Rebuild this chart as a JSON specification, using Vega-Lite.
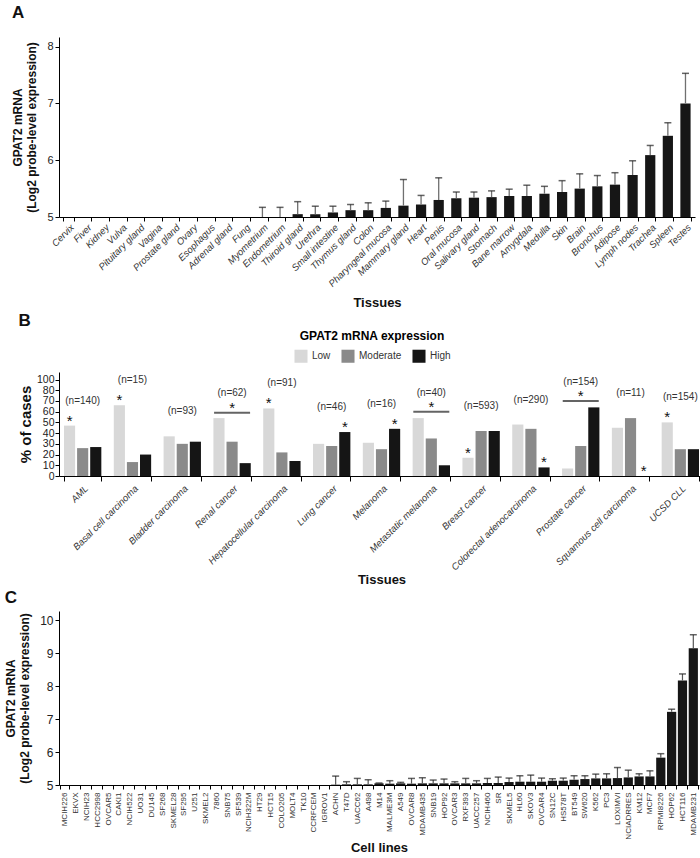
{
  "$schema": "https://vega.github.io/schema/vega-lite/v6.json",
  "padding": {"left": 4, "top": 4, "right": 2, "bottom": 2},
  "config": {
    "font": "Liberation Sans",
    "view": {"stroke": null},
    "axis": {"domainColor": "#000", "tickColor": "#000", "labelColor": "#222", "titleColor": "#111", "grid": false, "labelFont": "Liberation Sans", "titleFont": "Liberation Sans", "labelOverlap": false},
    "axisY": {"labelOverlap": false},
    "title": {"font": "Liberation Sans", "fontSize": 17, "fontWeight": "bold", "anchor": "start", "frame": "bounds", "color": "#111"}
  },
  "datasets": {
    "tissues": [
      {"tissue": "Cervix", "mean": 5.0},
      {"tissue": "Fiver", "mean": 5.0},
      {"tissue": "Kidney", "mean": 5.0},
      {"tissue": "Vulva", "mean": 5.0},
      {"tissue": "Pituitary gland", "mean": 5.0},
      {"tissue": "Vagina", "mean": 5.0},
      {"tissue": "Prostate gland", "mean": 5.0},
      {"tissue": "Ovary", "mean": 5.0},
      {"tissue": "Esophagus", "mean": 5.0},
      {"tissue": "Adrenal gland", "mean": 5.0},
      {"tissue": "Fung", "mean": 5.0},
      {"tissue": "Myometrium", "mean": 5.0, "upper": 5.17},
      {"tissue": "Endometrium", "mean": 5.0, "upper": 5.17},
      {"tissue": "Thiroid gland", "mean": 5.05, "upper": 5.27},
      {"tissue": "Urethra", "mean": 5.05, "upper": 5.19},
      {"tissue": "Small intestine", "mean": 5.08, "upper": 5.19},
      {"tissue": "Thymus gland", "mean": 5.12, "upper": 5.22},
      {"tissue": "Colon", "mean": 5.12, "upper": 5.25},
      {"tissue": "Pharyngeal mucosa", "mean": 5.16, "upper": 5.28},
      {"tissue": "Mammary gland", "mean": 5.2, "upper": 5.66},
      {"tissue": "Heart", "mean": 5.22, "upper": 5.38},
      {"tissue": "Penis", "mean": 5.3, "upper": 5.69},
      {"tissue": "Oral mucosa", "mean": 5.33, "upper": 5.44},
      {"tissue": "Salivary gland", "mean": 5.34, "upper": 5.44},
      {"tissue": "Stomach", "mean": 5.35, "upper": 5.46},
      {"tissue": "Bane marrow", "mean": 5.37, "upper": 5.49},
      {"tissue": "Amygdala", "mean": 5.37, "upper": 5.56},
      {"tissue": "Medulla", "mean": 5.41, "upper": 5.54},
      {"tissue": "Skin", "mean": 5.44, "upper": 5.64},
      {"tissue": "Brain", "mean": 5.5, "upper": 5.76},
      {"tissue": "Bronchus", "mean": 5.54, "upper": 5.73},
      {"tissue": "Adipose", "mean": 5.57, "upper": 5.78},
      {"tissue": "Lymph nodes", "mean": 5.74, "upper": 5.99},
      {"tissue": "Trachea", "mean": 6.09, "upper": 6.26},
      {"tissue": "Spleen", "mean": 6.43, "upper": 6.66},
      {"tissue": "Testes", "mean": 7.0, "upper": 7.53}
    ],
    "cancers": [
      {"cancer": "AML", "nlabel": "(n=140)", "level": "Low", "pct": 47, "sig": true},
      {"cancer": "AML", "nlabel": "(n=140)", "level": "Moderate", "pct": 26, "sig": false},
      {"cancer": "AML", "nlabel": "(n=140)", "level": "High", "pct": 27, "sig": false},
      {"cancer": "Basal cell carcinoma", "nlabel": "(n=15)", "level": "Low", "pct": 66, "sig": true},
      {"cancer": "Basal cell carcinoma", "nlabel": "(n=15)", "level": "Moderate", "pct": 13, "sig": false},
      {"cancer": "Basal cell carcinoma", "nlabel": "(n=15)", "level": "High", "pct": 20, "sig": false},
      {"cancer": "Bladder carcinoma", "nlabel": "(n=93)", "level": "Low", "pct": 37, "sig": false},
      {"cancer": "Bladder carcinoma", "nlabel": "(n=93)", "level": "Moderate", "pct": 30, "sig": false},
      {"cancer": "Bladder carcinoma", "nlabel": "(n=93)", "level": "High", "pct": 32, "sig": false},
      {"cancer": "Renal cancer", "nlabel": "(n=62)", "level": "Low", "pct": 54, "sig": false},
      {"cancer": "Renal cancer", "nlabel": "(n=62)", "level": "Moderate", "pct": 32, "sig": false},
      {"cancer": "Renal cancer", "nlabel": "(n=62)", "level": "High", "pct": 12, "sig": false},
      {"cancer": "Hepatocellular carcinoma", "nlabel": "(n=91)", "level": "Low", "pct": 63, "sig": true},
      {"cancer": "Hepatocellular carcinoma", "nlabel": "(n=91)", "level": "Moderate", "pct": 22, "sig": false},
      {"cancer": "Hepatocellular carcinoma", "nlabel": "(n=91)", "level": "High", "pct": 14, "sig": false},
      {"cancer": "Lung cancer", "nlabel": "(n=46)", "level": "Low", "pct": 30, "sig": false},
      {"cancer": "Lung cancer", "nlabel": "(n=46)", "level": "Moderate", "pct": 28, "sig": false},
      {"cancer": "Lung cancer", "nlabel": "(n=46)", "level": "High", "pct": 41, "sig": true},
      {"cancer": "Melanoma", "nlabel": "(n=16)", "level": "Low", "pct": 31, "sig": false},
      {"cancer": "Melanoma", "nlabel": "(n=16)", "level": "Moderate", "pct": 25, "sig": false},
      {"cancer": "Melanoma", "nlabel": "(n=16)", "level": "High", "pct": 44, "sig": true},
      {"cancer": "Metastatic melanoma", "nlabel": "(n=40)", "level": "Low", "pct": 54, "sig": false},
      {"cancer": "Metastatic melanoma", "nlabel": "(n=40)", "level": "Moderate", "pct": 35, "sig": false},
      {"cancer": "Metastatic melanoma", "nlabel": "(n=40)", "level": "High", "pct": 10, "sig": false},
      {"cancer": "Breast cancer", "nlabel": "(n=593)", "level": "Low", "pct": 17, "sig": true},
      {"cancer": "Breast cancer", "nlabel": "(n=593)", "level": "Moderate", "pct": 42, "sig": false},
      {"cancer": "Breast cancer", "nlabel": "(n=593)", "level": "High", "pct": 42, "sig": false},
      {"cancer": "Colorectal adenocarcinoma", "nlabel": "(n=290)", "level": "Low", "pct": 48, "sig": false},
      {"cancer": "Colorectal adenocarcinoma", "nlabel": "(n=290)", "level": "Moderate", "pct": 44, "sig": false},
      {"cancer": "Colorectal adenocarcinoma", "nlabel": "(n=290)", "level": "High", "pct": 8, "sig": true},
      {"cancer": "Prostate cancer", "nlabel": "(n=154)", "level": "Low", "pct": 7, "sig": false},
      {"cancer": "Prostate cancer", "nlabel": "(n=154)", "level": "Moderate", "pct": 28, "sig": false},
      {"cancer": "Prostate cancer", "nlabel": "(n=154)", "level": "High", "pct": 64, "sig": false},
      {"cancer": "Squamous cell carcinoma", "nlabel": "(n=11)", "level": "Low", "pct": 45, "sig": false},
      {"cancer": "Squamous cell carcinoma", "nlabel": "(n=11)", "level": "Moderate", "pct": 54, "sig": false},
      {"cancer": "Squamous cell carcinoma", "nlabel": "(n=11)", "level": "High", "pct": 0, "sig": true},
      {"cancer": "UCSD CLL", "nlabel": "(n=154)", "level": "Low", "pct": 50, "sig": true},
      {"cancer": "UCSD CLL", "nlabel": "(n=154)", "level": "Moderate", "pct": 25, "sig": false},
      {"cancer": "UCSD CLL", "nlabel": "(n=154)", "level": "High", "pct": 25, "sig": false}
    ],
    "brackets": [
      {"cancer": "Renal cancer", "bracket": 59},
      {"cancer": "Metastatic melanoma", "bracket": 60},
      {"cancer": "Prostate cancer", "bracket": 70}
    ],
    "notes": [
      {"cancer": "AML", "note": "* p<0.01", "side": "left"},
      {"cancer": "UCSD CLL", "note": "N=1693", "side": "right"}
    ],
    "cells": [
      {"cell": "MCIH226", "mean": 5.0}, {"cell": "EKVX", "mean": 5.0}, {"cell": "NCIH23", "mean": 5.0},
      {"cell": "HCC2998", "mean": 5.0}, {"cell": "OVCAR5", "mean": 5.0}, {"cell": "CAKI1", "mean": 5.0},
      {"cell": "NCIH522", "mean": 5.0}, {"cell": "UO31", "mean": 5.0}, {"cell": "DU145", "mean": 5.0},
      {"cell": "SF268", "mean": 5.0}, {"cell": "SKMEL28", "mean": 5.0}, {"cell": "SF295", "mean": 5.0},
      {"cell": "U251", "mean": 5.0}, {"cell": "SKMEL2", "mean": 5.0}, {"cell": "7860", "mean": 5.0},
      {"cell": "SNB75", "mean": 5.0}, {"cell": "SF539", "mean": 5.0}, {"cell": "NCIH322M", "mean": 5.0},
      {"cell": "HT29", "mean": 5.0}, {"cell": "HCT15", "mean": 5.0}, {"cell": "COLO205", "mean": 5.0},
      {"cell": "MOLT4", "mean": 5.0}, {"cell": "TK10", "mean": 5.0}, {"cell": "CCRFCEM", "mean": 5.0},
      {"cell": "IGROV1", "mean": 5.0},
      {"cell": "ACHN", "mean": 5.01, "upper": 5.27},
      {"cell": "T47D", "mean": 5.02, "upper": 5.1},
      {"cell": "UACC62", "mean": 5.02, "upper": 5.2},
      {"cell": "A498", "mean": 5.02, "upper": 5.16},
      {"cell": "M14", "mean": 5.05, "upper": 5.06},
      {"cell": "MALME3M", "mean": 5.04, "upper": 5.13},
      {"cell": "A549", "mean": 5.05, "upper": 5.08},
      {"cell": "OVCAR8", "mean": 5.04, "upper": 5.2},
      {"cell": "MDAMB435", "mean": 5.05, "upper": 5.22},
      {"cell": "SNB19", "mean": 5.05, "upper": 5.15},
      {"cell": "HOP92", "mean": 5.05, "upper": 5.18},
      {"cell": "OVCAR3", "mean": 5.05, "upper": 5.1},
      {"cell": "RXF393", "mean": 5.05, "upper": 5.2},
      {"cell": "UACC257", "mean": 5.05, "upper": 5.13},
      {"cell": "NCIH460", "mean": 5.06, "upper": 5.2},
      {"cell": "SR", "mean": 5.06, "upper": 5.24},
      {"cell": "SKMEL5", "mean": 5.09, "upper": 5.21},
      {"cell": "HL60", "mean": 5.1, "upper": 5.28},
      {"cell": "SKOV3", "mean": 5.1, "upper": 5.3},
      {"cell": "OVCAR4", "mean": 5.1, "upper": 5.21},
      {"cell": "SN12C", "mean": 5.13, "upper": 5.19},
      {"cell": "HS578T", "mean": 5.13, "upper": 5.21},
      {"cell": "BT549", "mean": 5.16, "upper": 5.28},
      {"cell": "SW620", "mean": 5.18, "upper": 5.28},
      {"cell": "K562", "mean": 5.2, "upper": 5.33},
      {"cell": "PC3", "mean": 5.2, "upper": 5.34},
      {"cell": "LOXIMVI", "mean": 5.21, "upper": 5.53},
      {"cell": "NCIADRRES", "mean": 5.23, "upper": 5.45},
      {"cell": "KM12", "mean": 5.26, "upper": 5.34},
      {"cell": "MCF7", "mean": 5.26, "upper": 5.43},
      {"cell": "RPMI8226", "mean": 5.83, "upper": 5.95},
      {"cell": "HOP62", "mean": 7.22, "upper": 7.3},
      {"cell": "HCT116", "mean": 8.17, "upper": 8.37},
      {"cell": "MDAMB231", "mean": 9.15, "upper": 9.56}
    ]
  },
  "resolve": {"scale": {"color": "independent"}, "legend": {"color": "independent"}},
  "concat": [
    {
      "title": {"text": "A", "offset": 15},
      "width": 636,
      "height": 180,
      "data": {"name": "tissues"},
      "encoding": {
        "x": {
          "field": "tissue", "type": "nominal",
          "sort": ["Cervix", "Fiver", "Kidney", "Vulva", "Pituitary gland", "Vagina", "Prostate gland", "Ovary", "Esophagus", "Adrenal gland", "Fung", "Myometrium", "Endometrium", "Thiroid gland", "Urethra", "Small intestine", "Thymus gland", "Colon", "Pharyngeal mucosa", "Mammary gland", "Heart", "Penis", "Oral mucosa", "Salivary gland", "Stomach", "Bane marrow", "Amygdala", "Medulla", "Skin", "Brain", "Bronchus", "Adipose", "Lymph nodes", "Trachea", "Spleen", "Testes"],
          "scale": {"paddingInner": 0.42, "paddingOuter": 0.25},
          "axis": {"title": "Tissues", "titleFontSize": 13, "titleFontWeight": "bold", "titlePadding": 8, "labelAngle": -45, "labelFontSize": 9.5, "labelFontStyle": "italic", "labelColor": "#333", "tickBand": "extent", "tickSize": 4, "labelPadding": 1, "labelOverlap": false}
        },
        "y": {"field": "mean", "type": "quantitative", "scale": {"domain": [5, 8.17], "nice": false, "zero": false},
          "axis": {"values": [5, 6, 7, 8], "format": ".0f", "labelOverlap": false, "title": ["GPAT2 mRNA", "(Log2 probe-level expression)"], "titleFontSize": 12, "titleFontWeight": "bold", "labelFontSize": 11, "tickSize": 4, "titlePadding": 8}}
      },
      "layer": [
        {
          "mark": {"type": "bar", "color": "#161616"},
          "encoding": {"y2": {"datum": 5}}
        },
        {
          "transform": [{"filter": "isValid(datum.upper)"}],
          "mark": {"type": "rule", "color": "#707070", "strokeWidth": 1.3},
          "encoding": {"y2": {"field": "upper"}}
        },
        {
          "transform": [{"filter": "isValid(datum.upper)"}],
          "mark": {"type": "tick", "orient": "horizontal", "color": "#222", "size": 7, "thickness": 1.5},
          "encoding": {"y": {"field": "upper", "type": "quantitative"}}
        }
      ]
    },
    {
      "title": {"text": "B", "offset": 1},
      "width": 645,
      "height": 104,
      "data": {"name": "cancers"},
      "encoding": {
        "x": {
          "field": "cancer", "type": "nominal",
          "sort": ["AML", "Basal cell carcinoma", "Bladder carcinoma", "Renal cancer", "Hepatocellular carcinoma", "Lung cancer", "Melanoma", "Metastatic melanoma", "Breast cancer", "Colorectal adenocarcinoma", "Prostate cancer", "Squamous cell carcinoma", "UCSD CLL"],
          "scale": {"paddingInner": 0.25, "paddingOuter": 0.1},
          "axis": {"title": "Tissues", "titleFontSize": 13, "titleFontWeight": "bold", "titlePadding": 2, "labelAngle": -45, "labelFontSize": 9.5, "labelFontStyle": "italic", "labelColor": "#333", "tickBand": "extent", "tickSize": 5, "labelPadding": 2, "labelLimit": 200, "labelOverlap": false}
        },
        "y": {"field": "pct", "type": "quantitative", "scale": {"domain": [0, 97], "nice": false},
          "axis": {"values": [0, 10, 20, 30, 40, 50, 60, 70, 80, 90], "labelExpr": "datum.value == 90 ? '100' : datum.label", "labelOverlap": false, "title": "% of cases", "titleFontSize": 15, "titleFontWeight": "bold", "labelFontSize": 10.5, "tickSize": 4, "titlePadding": 3, "labelPadding": 1}}
      },
      "layer": [
        {
          "mark": {"type": "bar"},
          "encoding": {
            "xOffset": {"field": "level", "type": "nominal", "sort": ["Low", "Moderate", "High"], "scale": {"paddingInner": 0.15}},
            "color": {
              "field": "level", "type": "nominal",
              "scale": {"domain": ["Low", "Moderate", "High"], "range": ["#d8d8d8", "#8a8a8a", "#151515"]},
              "legend": {"title": "GPAT2 mRNA expression", "orient": "none", "legendX": 235, "legendY": -41, "direction": "horizontal", "titleFontSize": 12, "titleFontWeight": "bold", "titleAnchor": "middle", "titlePadding": 6, "symbolType": "square", "symbolSize": 170, "symbolStrokeWidth": 0, "labelFontSize": 10, "labelColor": "#333", "columnPadding": 10}
            }
          }
        },
        {
          "transform": [{"filter": "datum.sig"}],
          "mark": {"type": "text", "text": "*", "baseline": "top", "dy": -12, "fontSize": 15, "color": "#111"},
          "encoding": {
            "xOffset": {"field": "level", "type": "nominal", "sort": ["Low", "Moderate", "High"]}
          }
        },
        {
          "transform": [{"joinaggregate": [{"op": "max", "field": "pct", "as": "groupmax"}], "groupby": ["cancer"]}, {"filter": "datum.level == 'Low'"}],
          "mark": {"type": "text", "dy": -25, "fontSize": 10, "color": "#333"},
          "encoding": {
            "y": {"field": "groupmax", "type": "quantitative"},
            "text": {"field": "nlabel", "type": "nominal"}
          }
        },
        {
          "data": {"name": "brackets"},
          "mark": {"type": "tick", "orient": "horizontal", "size": 36, "thickness": 2, "color": "#222"},
          "encoding": {"y": {"field": "bracket", "type": "quantitative"}}
        },
        {
          "data": {"name": "brackets"},
          "mark": {"type": "text", "text": "*", "baseline": "top", "dy": -12, "fontSize": 15, "color": "#111"},
          "encoding": {"y": {"field": "bracket", "type": "quantitative"}}
        },
        {
          "data": {"name": "notes"},
          "transform": [{"filter": "datum.side == 'left'"}],
          "mark": {"type": "text", "align": "left", "dx": -18, "fontSize": 10, "fontWeight": "bold", "color": "#111"},
          "encoding": {"y": {"datum": 106}, "text": {"field": "note"}}
        },
        {
          "data": {"name": "notes"},
          "transform": [{"filter": "datum.side == 'right'"}],
          "mark": {"type": "text", "align": "right", "dx": 22, "fontSize": 10, "fontWeight": "bold", "color": "#111"},
          "encoding": {"y": {"datum": 106}, "text": {"field": "note"}}
        }
      ]
    },
    {
      "title": {"text": "C", "offset": 4},
      "width": 640,
      "height": 174,
      "data": {"name": "cells"},
      "encoding": {
        "x": {
          "field": "cell", "type": "nominal",
          "sort": ["MCIH226", "EKVX", "NCIH23", "HCC2998", "OVCAR5", "CAKI1", "NCIH522", "UO31", "DU145", "SF268", "SKMEL28", "SF295", "U251", "SKMEL2", "7860", "SNB75", "SF539", "NCIH322M", "HT29", "HCT15", "COLO205", "MOLT4", "TK10", "CCRFCEM", "IGROV1", "ACHN", "T47D", "UACC62", "A498", "M14", "MALME3M", "A549", "OVCAR8", "MDAMB435", "SNB19", "HOP92", "OVCAR3", "RXF393", "UACC257", "NCIH460", "SR", "SKMEL5", "HL60", "SKOV3", "OVCAR4", "SN12C", "HS578T", "BT549", "SW620", "K562", "PC3", "LOXIMVI", "NCIADRRES", "KM12", "MCF7", "RPMI8226", "HOP62", "HCT116", "MDAMB231"],
          "scale": {"paddingInner": 0.15, "paddingOuter": 0.1},
          "axis": {"title": "Cell lines", "titleFontSize": 13, "titleFontWeight": "bold", "titlePadding": 2, "labelAngle": -90, "labelFontSize": 8, "labelColor": "#333", "tickBand": "extent", "tickSize": 4, "labelPadding": 3, "labelOverlap": false}
        },
        "y": {"field": "mean", "type": "quantitative", "scale": {"domain": [5, 10.28], "nice": false, "zero": false},
          "axis": {"values": [5, 6, 7, 8, 9, 10], "format": ".0f", "labelOverlap": false, "title": ["GPAT2 mRNA", "(Log2 probe-level expression)"], "titleFontSize": 12, "titleFontWeight": "bold", "labelFontSize": 12, "tickSize": 4, "titlePadding": 8}}
      },
      "layer": [
        {
          "mark": {"type": "bar", "color": "#161616"},
          "encoding": {"y2": {"datum": 5}}
        },
        {
          "transform": [{"filter": "isValid(datum.upper)"}],
          "mark": {"type": "rule", "color": "#555", "strokeWidth": 1.2},
          "encoding": {"y2": {"field": "upper"}}
        },
        {
          "transform": [{"filter": "isValid(datum.upper)"}],
          "mark": {"type": "tick", "orient": "horizontal", "color": "#222", "size": 7, "thickness": 1.5},
          "encoding": {"y": {"field": "upper", "type": "quantitative"}}
        }
      ]
    }
  ],
  "columns": 1,
  "align": "none",
  "spacing": 2
}
